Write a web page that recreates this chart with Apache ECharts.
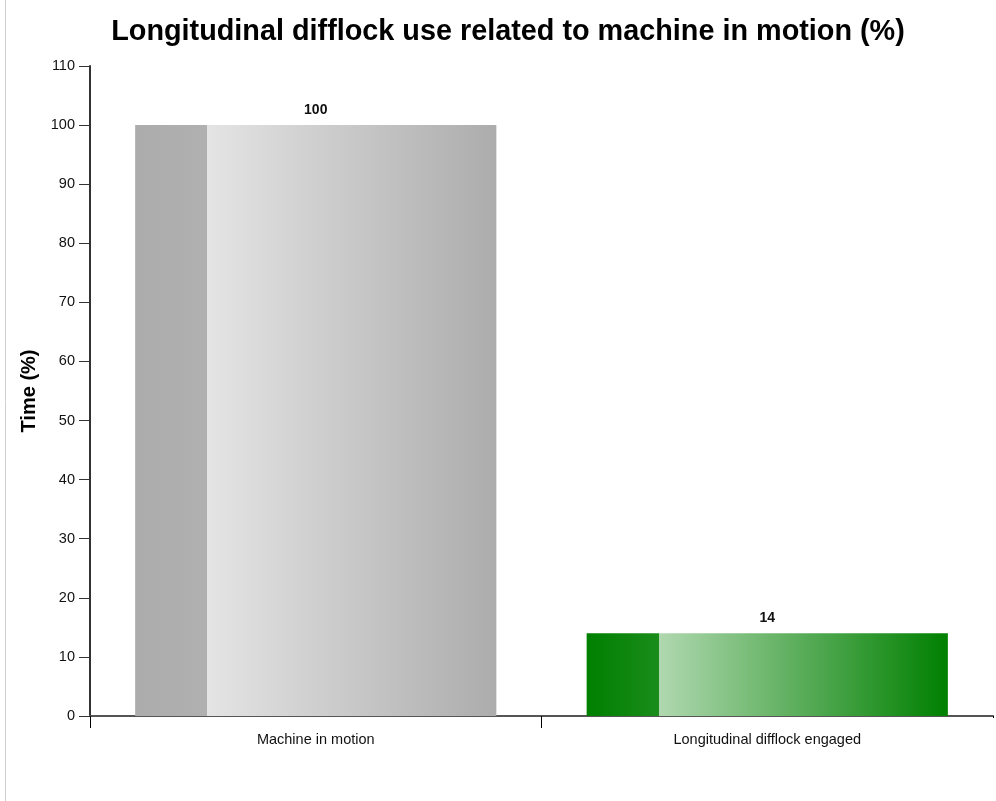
<!DOCTYPE html>
<html><head><meta charset="utf-8">
<script src="https://cdn.jsdelivr.net/npm/echarts@6/dist/echarts.min.js"></script>
<style>html,body{margin:0;padding:0;background:#fff}#c{width:996px;height:801px}</style>
</head><body><div id="c"></div>
<script>
const categories = ["Machine in motion", "Longitudinal difflock engaged"];
const values = [100, 14];
const darkColors = ["#acacac", "#008000"];
const darkColors2 = ["#b0b0b0", "#1a8c1a"];
const lightColors = ["#e4e4e4", "#b0d8b0"];
const titleText = "Longitudinal difflock use related to machine in motion (%)";
const yAxisName = "Time (%)";

const FONT = 'Liberation Sans, Arial';
const chart = echarts.init(document.getElementById('c'), null, {renderer: 'canvas'});
const data = values.map((v, i) => ({
  value: v,
  itemStyle: {
    color: new echarts.graphic.LinearGradient(0, 0, 1, 0, [
      {offset: 0, color: darkColors[i]},
      {offset: 0.199, color: darkColors2[i]},
      {offset: 0.2, color: lightColors[i]},
      {offset: 1, color: darkColors[i]}
    ])
  }
}));
chart.setOption({
  animation: false,
  title: {
    text: titleText, left: 503, top: 13, textAlign: 'center',
    textStyle: {fontFamily: FONT, fontSize: 28.8, fontWeight: 'bold', color: '#000'}
  },
  graphic: [
    {type: 'line', shape: {x1: 5.5, y1: 0, x2: 5.5, y2: 801}, style: {stroke: '#d0d0d0', lineWidth: 1}},
    {type: 'rect', z: 100, shape: {x: 988, y: 718, width: 8, height: 14}, style: {fill: '#fff'}}
  ],
  grid: {left: 90, right: 3, top: 66, bottom: 85, containLabel: false},
  xAxis: {
    type: 'category', data: categories, boundaryGap: true,
    axisLine: {lineStyle: {color: '#555', width: 2}},
    axisTick: {show: true, alignWithLabel: false, length: 12, lineStyle: {color: '#000', width: 1}},
    axisLabel: {fontFamily: FONT, fontSize: 14.5, color: '#111', margin: 16}
  },
  yAxis: {
    type: 'value', min: 0, max: 110, interval: 10,
    name: yAxisName, nameLocation: 'middle', nameGap: 46, nameRotate: 90,
    nameTextStyle: {fontFamily: FONT, fontSize: 20, fontWeight: 'bold', color: '#000'},
    axisLine: {show: true, lineStyle: {color: '#333', width: 2}},
    axisTick: {show: true, length: 11, lineStyle: {color: '#333', width: 1}},
    axisLabel: {fontFamily: FONT, fontSize: 14.5, color: '#111', margin: 15},
    splitLine: {show: false}
  },
  series: [{
    type: 'bar', data: data, barWidth: '80%',
    label: {show: true, position: 'top', distance: 8, fontFamily: FONT, fontSize: 14, fontWeight: 'bold', color: '#111'}
  }]
});
</script></body></html>
